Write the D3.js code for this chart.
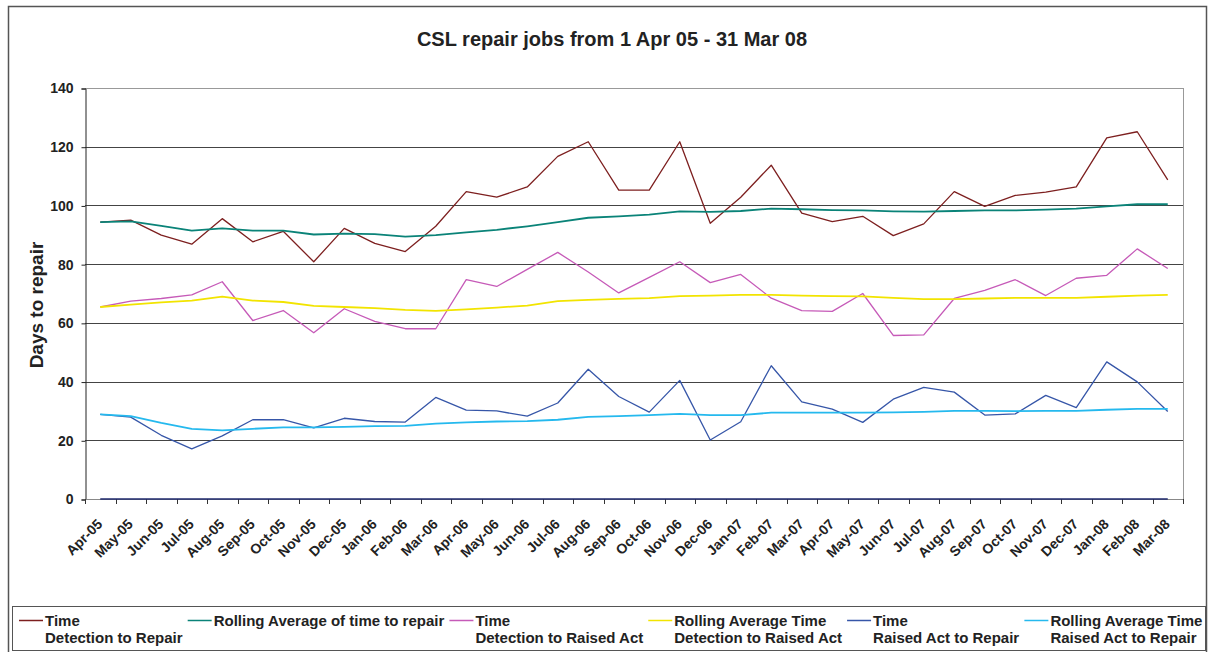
<!DOCTYPE html>
<html>
<head>
<meta charset="utf-8">
<script src="https://cdn.jsdelivr.net/npm/d3@7"></script>
<style>
  html, body { margin: 0; padding: 0; background: #fff; }
  svg { display: block; font-family: "Liberation Sans", Arial, sans-serif; }
</style>
</head>
<body>
<svg id="chart" width="1210" height="652"></svg>
<script>
// Months on the category axis
const months = ["Apr-05","May-05","Jun-05","Jul-05","Aug-05","Sep-05","Oct-05","Nov-05","Dec-05","Jan-06","Feb-06","Mar-06",
                "Apr-06","May-06","Jun-06","Jul-06","Aug-06","Sep-06","Oct-06","Nov-06","Dec-06","Jan-07","Feb-07","Mar-07",
                "Apr-07","May-07","Jun-07","Jul-07","Aug-07","Sep-07","Oct-07","Nov-07","Dec-07","Jan-08","Feb-08","Mar-08"];

// Days to repair, per month
const detectToRepair = [94.3, 95.0, 89.9, 86.8, 95.5, 87.6, 91.2, 80.8, 92.2, 87.1, 84.3, 92.9,
                        104.7, 102.8, 106.3, 116.7, 121.7, 105.2, 105.2, 121.7, 93.9, 102.8, 113.7, 97.4,
                        94.5, 96.3, 89.7, 93.7, 104.7, 99.7, 103.4, 104.5, 106.3, 123.0, 125.1, 108.7];
const rollingRepair = [94.3, 94.6, 93.0, 91.4, 92.2, 91.4, 91.4, 90.1, 90.4, 90.2, 89.4, 89.9,
                       90.8, 91.7, 92.9, 94.3, 95.8, 96.3, 96.9, 98.0, 97.8, 98.1, 98.9, 98.7,
                       98.4, 98.3, 98.0, 97.9, 98.1, 98.3, 98.3, 98.6, 98.9, 99.7, 100.4, 100.4];
const detectToRaised = [65.4, 67.4, 68.3, 69.5, 74.0, 60.8, 64.2, 56.6, 64.8, 60.5, 58.0, 58.0,
                        74.7, 72.4, 78.2, 84.0, 77.3, 70.2, 75.5, 80.8, 73.7, 76.5, 68.4, 64.2,
                        63.9, 70.0, 55.7, 55.9, 68.3, 71.1, 74.7, 69.3, 75.2, 76.2, 85.2, 78.5];
const rollingRaised = [65.4, 66.2, 67.0, 67.6, 68.9, 67.6, 67.1, 65.8, 65.4, 65.0, 64.4, 64.1,
                       64.6, 65.2, 65.9, 67.4, 67.8, 68.2, 68.4, 69.1, 69.3, 69.5, 69.5, 69.3,
                       69.1, 69.0, 68.5, 68.1, 68.1, 68.3, 68.5, 68.5, 68.5, 68.9, 69.3, 69.5];
const raisedToRepair = [28.8, 27.9, 21.7, 17.1, 21.5, 27.0, 27.0, 24.2, 27.5, 26.4, 26.2, 34.6,
                        30.3, 30.0, 28.2, 32.7, 44.2, 34.9, 29.6, 40.4, 20.1, 26.3, 45.4, 33.1,
                        30.6, 26.1, 34.0, 38.0, 36.4, 28.6, 29.0, 35.3, 31.1, 46.7, 39.9, 29.8];
const rollingRaisedRepair = [28.8, 28.2, 25.9, 23.9, 23.4, 23.9, 24.4, 24.4, 24.6, 24.8, 24.9, 25.7,
                             26.1, 26.4, 26.5, 27.0, 28.0, 28.2, 28.6, 29.0, 28.6, 28.6, 29.4, 29.4,
                             29.4, 29.4, 29.5, 29.7, 30.0, 30.0, 29.9, 30.0, 30.0, 30.4, 30.7, 30.7];
// Unlabelled series that sits on the baseline
const baselineSeries = [0,0,0,0,0,0,0,0,0,0,0,0, 0,0,0,0,0,0,0,0,0,0,0,0, 0,0,0,0,0,0,0,0,0,0,0,0];

const yTicks = [0, 20, 40, 60, 80, 100, 120, 140];

const legendLabels = [
  ["Time", "Detection to Repair"],
  ["Rolling Average of time to repair"],
  ["Time", "Detection to Raised Act"],
  ["Rolling Average Time", "Detection to Raised Act"],
  ["Time", "Raised Act to Repair"],
  ["Rolling Average Time", "Raised Act to Repair"]
];
const seriesValues = [detectToRepair, rollingRepair, detectToRaised, rollingRaised, raisedToRepair, rollingRaisedRepair];
const seriesColors = ["#7d1f1f", "#0a8378", "#c65ab8", "#f2e400", "#3656a8", "#25b9ee"];
const seriesWidths = [1.3, 1.8, 1.3, 1.8, 1.3, 1.8];

const svg = d3.select("#chart");
const plot = { left: 85, right: 1183, top: 88, bottom: 499 };

// Outer chart frame
svg.append("rect").attr("x", 8.5).attr("y", 6.5).attr("width", 1198).attr("height", 680)
  .attr("fill", "#fff").attr("stroke", "#555").attr("stroke-width", 1.5);

const x = d3.scaleBand().domain(months).range([plot.left, plot.right]).padding(0);
const y = d3.scaleLinear().domain([0, 140]).range([plot.bottom, plot.top]);
const cx = m => x(m) + x.bandwidth() / 2;

// Title
svg.append("text").attr("x", 612).attr("y", 46).attr("text-anchor", "middle")
  .attr("font-size", 20).attr("font-weight", "bold").attr("fill", "#222")
  .text("CSL repair jobs from 1 Apr 05 - 31 Mar 08");

// Gridlines
svg.append("g").selectAll("line").data(yTicks.filter(t => t > 0)).join("line")
  .attr("x1", plot.left).attr("x2", plot.right)
  .attr("y1", d => Math.round(y(d)) + 0.5).attr("y2", d => Math.round(y(d)) + 0.5)
  .attr("stroke", d => d === 140 ? "#999" : "#444").attr("stroke-width", 1);

// Right border of the plot area
svg.append("line").attr("x1", plot.right + 0.5).attr("x2", plot.right + 0.5)
  .attr("y1", plot.top).attr("y2", plot.bottom).attr("stroke", "#999");

// Y axis
const yAxis = d3.axisLeft(y).tickValues(yTicks).tickSize(4).tickPadding(8).tickFormat(d3.format("d"));
const gy = svg.append("g").attr("transform", `translate(${plot.left + 0.5},0.5)`).call(yAxis);
gy.select(".domain").attr("stroke", "#222");
gy.selectAll(".tick line").attr("stroke", "#222");
gy.selectAll(".tick text").attr("font-size", 14).attr("font-weight", "bold").attr("fill", "#222")
  .attr("font-family", "'Liberation Sans', Arial, sans-serif");

// X axis: ticks between categories
const boundaries = months.map(m => x(m)).concat([plot.right]);
const gx = svg.append("g");
gx.append("line").attr("x1", plot.left).attr("x2", plot.right)
  .attr("y1", plot.bottom + 0.5).attr("y2", plot.bottom + 0.5).attr("stroke", "#888");
gx.selectAll("line.tk").data(boundaries).join("line").attr("class", "tk")
  .attr("x1", d => Math.round(d) + 0.5).attr("x2", d => Math.round(d) + 0.5)
  .attr("y1", plot.bottom).attr("y2", plot.bottom + 5).attr("stroke", "#333");
gx.selectAll("text").data(months).join("text")
  .attr("transform", d => `translate(${cx(d) + 3},${plot.bottom + 26}) rotate(-45)`)
  .attr("text-anchor", "end").attr("font-size", 14).attr("font-weight", "bold").attr("fill", "#222")
  .text(d => d);

// Y axis title
svg.append("text").attr("transform", "translate(43,305) rotate(-90)").attr("text-anchor", "middle")
  .attr("font-size", 19).attr("font-weight", "bold").attr("fill", "#222").text("Days to repair");

// Series lines
const line = d3.line().x((d, i) => cx(months[i])).y(d => y(d));
const gl = svg.append("g");
gl.append("path").datum(baselineSeries).attr("d", line).attr("fill", "none")
  .attr("stroke", "#1f2a6e").attr("stroke-width", 1.5);
seriesValues.forEach((vals, k) => {
  gl.append("path").datum(vals).attr("d", line).attr("fill", "none")
    .attr("stroke", seriesColors[k]).attr("stroke-width", seriesWidths[k]).attr("stroke-linejoin", "round");
});

// Legend
svg.append("rect").attr("x", 12.5).attr("y", 606.5).attr("width", 1193).attr("height", 44)
  .attr("fill", "#fff").attr("stroke", "#555").attr("stroke-width", 1);
let lx = 19;
legendLabels.forEach((lines, k) => {
  const g = svg.append("g");
  g.append("line").attr("x1", lx).attr("x2", lx + 24).attr("y1", 620.5).attr("y2", 620.5)
    .attr("stroke", seriesColors[k]).attr("stroke-width", 1.5);
  const t = g.append("text").attr("x", lx + 26).attr("y", 626).attr("font-size", 15)
    .attr("font-weight", "bold").attr("fill", "#222");
  lines.forEach((s, j) => t.append("tspan").attr("x", lx + 26).attr("dy", j === 0 ? 0 : 17).text(s));
  const w = t.node().getBBox().width;
  lx = lx + 26 + w + 5;
});
</script>
</body>
</html>
